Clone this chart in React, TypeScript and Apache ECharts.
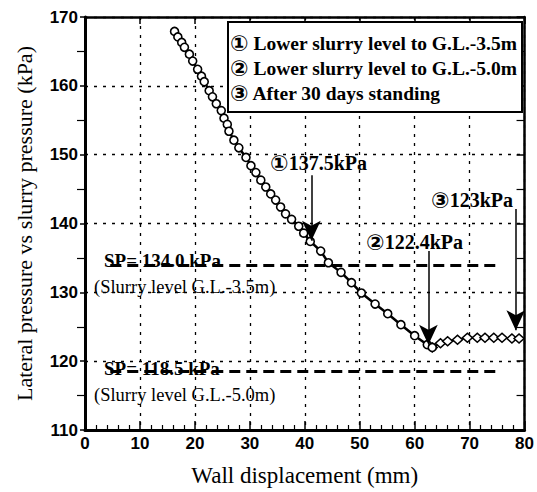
import React, { useEffect, useRef } from "react";
import * as echarts from "echarts";

// Wall displacement (mm) vs lateral pressure (kPa)
const stageOneTwo: number[][] = [
  [16.3, 167.9], [16.9, 167.1], [17.6, 166.3], [18.1, 165.6], [19.0, 164.6],
  [19.6, 163.6], [20.5, 162.4], [21.2, 161.4], [21.7, 160.6], [22.6, 159.3],
  [23.2, 158.4], [23.9, 157.4], [24.8, 156.4], [25.3, 155.3], [25.9, 154.4],
  [26.2, 153.4], [27.1, 152.1], [28.0, 151.0], [29.3, 149.6], [30.2, 148.4],
  [31.1, 147.4], [32.0, 146.3], [32.9, 145.3], [33.8, 144.3], [34.7, 143.4],
  [35.6, 142.4], [36.5, 141.4], [37.6, 140.6], [38.9, 139.6], [39.8, 138.6],
  [41.0, 137.4], [42.9, 136.0], [44.3, 134.3], [46.6, 132.9], [48.5, 131.4],
  [50.3, 129.9], [52.8, 128.3], [55.1, 126.9], [57.5, 125.3], [60.0, 123.7],
  [62.3, 122.4], [63.2, 122.0],
];
const stageThree: number[][] = [
  [63.2, 122.0], [64.7, 122.6], [66.0, 122.9], [67.8, 123.1], [69.6, 123.4],
  [71.4, 123.4], [72.8, 123.4], [74.4, 123.4], [75.9, 123.4], [77.7, 123.3],
  [79.0, 123.3],
];

// Slurry pressure levels
const spValues = [134.0, 118.5];
const spLabels = ["SP= 134.0 kPa", "SP= 118.5 kPa"];
const spNotes = ["(Slurry level G.L.-3.5m)", "(Slurry level G.L.-5.0m)"];
const spRange = [4.6, 75.3];

// Arrow annotations: x, start y, tip y
const arrowX = [41.2, 62.5, 78.4];
const arrowFrom = [147.0, 136.0, 142.1];
const arrowTo = [137.5, 122.4, 124.5];
const arrowMarks = ["①", "②", "③"];
const arrowTexts = ["137.5kPa", "122.4kPa", "123kPa"];

const legendMarks = ["①", "②", "③"];
const legendTexts = [
  "Lower slurry level to G.L.-3.5m",
  "Lower slurry level to G.L.-5.0m",
  "After 30 days standing",
];

const xTickMin = 0, xTickMax = 80, xTickStep = 10;
const yTickMin = 110, yTickMax = 170, yTickStep = 10;

const SERIF = "'Liberation Serif', 'DejaVu Serif', serif";
const SANS = "'Liberation Sans', Arial, sans-serif";
const CIRC = "'DejaVu Sans', 'Noto Sans CJK JP', sans-serif";

export default function App() {
  const ref = useRef<HTMLDivElement>(null);
  useEffect(() => {
    document.body.style.margin = "0";
    if (!ref.current) return;
    const chart = echarts.init(ref.current, null, { renderer: "svg" });

    const gridDot = { show: true, lineStyle: { color: "#000", width: 1.3, type: [3, 6] as any } };

    const arrowLines = arrowX.map((x, i) => [
      { coord: [x, arrowFrom[i]] },
      { coord: [x, arrowTo[i]] },
    ]);
    const spLines = spValues.map((v) => [
      { coord: [spRange[0], v] },
      { coord: [spRange[1], v] },
    ]);

    const richLegend = {
      c: { fontFamily: CIRC, fontWeight: "bold", fontSize: 22, fill: "#000", lineHeight: 21 },
      t: { fontFamily: SERIF, fontWeight: "bold", fontSize: 19.5, fill: "#000", lineHeight: 21 },
    };
    const richArrow = {
      c: { fontFamily: CIRC, fontWeight: "bold", fontSize: 22, fill: "#000", lineHeight: 21 },
      t: { fontFamily: SERIF, fontWeight: "bold", fontSize: 20, fill: "#000", lineHeight: 21 },
    };

    const arrowTextPos = [
      [270, 163],
      [366, 242],
      [431, 200],
    ];
    const spTextPos = [
      [104, 260, 94, 287],
      [104, 368, 94, 395],
    ];

    const graphics: any[] = [];
    graphics.push({
      type: "rect",
      shape: { x: 228, y: 22, width: 294, height: 90 },
      style: { fill: "#fff", stroke: "#000", lineWidth: 2 },
      z: 100,
    });
    legendTexts.forEach((t, i) => {
      graphics.push({
        type: "text",
        x: 230,
        y: 43 + i * 25,
        z: 101,
        style: {
          text: `{c|${legendMarks[i]}}{t| ${t}}`,
          rich: richLegend,
          verticalAlign: "middle",
          align: "left",
        },
      });
    });
    arrowTexts.forEach((t, i) => {
      graphics.push({
        type: "text",
        x: arrowTextPos[i][0],
        y: arrowTextPos[i][1],
        z: 101,
        style: {
          text: `{c|${arrowMarks[i]}}{t|${t}}`,
          rich: richArrow,
          verticalAlign: "middle",
          align: "left",
        },
      });
    });
    spLabels.forEach((t, i) => {
      graphics.push({
        type: "text",
        x: spTextPos[i][0],
        y: spTextPos[i][1],
        z: 101,
        style: {
          text: t,
          font: `bold 19px ${SERIF}`,
          fill: "#000",
          verticalAlign: "middle",
          align: "left",
        },
      });
      graphics.push({
        type: "text",
        x: spTextPos[i][2],
        y: spTextPos[i][3],
        z: 101,
        style: {
          text: spNotes[i],
          font: `18.5px ${SERIF}`,
          fill: "#000",
          verticalAlign: "middle",
          align: "left",
        },
      });
    });

    chart.setOption({
      animation: false,
      backgroundColor: "#fff",
      grid: { left: 85, right: 10, top: 17, bottom: 55, containLabel: false },
      xAxis: [
        {
          type: "value",
          min: xTickMin,
          max: xTickMax,
          interval: xTickStep,
          name: "Wall displacement (mm)",
          nameLocation: "middle",
          nameGap: 34,
          nameTextStyle: { fontFamily: SERIF, fontSize: 23, color: "#000" },
          axisLine: { show: true, onZero: false, lineStyle: { color: "#000", width: 3 } },
          axisTick: { show: true, inside: true, length: 9, lineStyle: { color: "#000", width: 1.5 } },
          minorTick: { show: true, splitNumber: 5, length: 5, lineStyle: { color: "#000", width: 1.2 } },
          axisLabel: { fontFamily: SANS, fontWeight: "bold", fontSize: 17, color: "#000", margin: 5 },
          splitLine: gridDot,
        },
        {
          type: "value",
          position: "top",
          min: xTickMin,
          max: xTickMax,
          interval: xTickStep,
          axisLine: { show: true, onZero: false, lineStyle: { color: "#000", width: 2.5 } },
          axisTick: { show: true, inside: true, length: 7, lineStyle: { color: "#000", width: 1.5 } },
          axisLabel: { show: false },
          splitLine: { show: false },
        },
      ],
      yAxis: [
        {
          type: "value",
          min: yTickMin,
          max: yTickMax,
          interval: yTickStep,
          name: "Lateral pressure vs slurry pressure (kPa)",
          nameLocation: "middle",
          nameGap: 50,
          nameTextStyle: { fontFamily: SERIF, fontSize: 22, color: "#000" },
          axisLine: { show: true, onZero: false, lineStyle: { color: "#000", width: 3 } },
          axisTick: { show: true, inside: false, length: 5, lineStyle: { color: "#000", width: 1.5 } },
          minorTick: { show: true, splitNumber: 2, length: 8, lineStyle: { color: "#000", width: 1.2 } },
          axisLabel: { fontFamily: SANS, fontWeight: "bold", fontSize: 17, color: "#000", margin: 7 },
          splitLine: gridDot,
        },
        {
          type: "value",
          position: "right",
          min: yTickMin,
          max: yTickMax,
          interval: yTickStep,
          axisLine: { show: true, onZero: false, lineStyle: { color: "#000", width: 2.5 } },
          axisTick: { show: true, inside: true, length: 8, lineStyle: { color: "#000", width: 1.5 } },
          minorTick: { show: true, splitNumber: 2, length: 8, lineStyle: { color: "#000", width: 1.2 } },
          axisLabel: { show: false },
          splitLine: { show: false },
        },
      ],
      series: [
        {
          type: "line",
          name: "slurry",
          data: [],
          markLine: {
            silent: true,
            symbol: ["none", "none"],
            label: { show: false },
            lineStyle: { color: "#000", width: 3, type: [11, 6] as any },
            data: spLines,
          },
        },
        {
          type: "line",
          name: "③",
          data: stageThree,
          symbol: "diamond",
          symbolSize: [10, 9],
          showSymbol: true,
          lineStyle: { color: "#000", width: 2 },
          itemStyle: { color: "#fff", borderColor: "#000", borderWidth: 1.5 },
          z: 3,
        },
        {
          type: "line",
          name: "①②",
          data: stageOneTwo,
          symbol: "circle",
          symbolSize: 8,
          showSymbol: true,
          lineStyle: { color: "#000", width: 2.5 },
          itemStyle: { color: "#fff", borderColor: "#000", borderWidth: 1.6 },
          z: 4,
          markLine: {
            silent: true,
            symbol: ["none", "arrow"],
            symbolSize: [14, 20],
            label: { show: false },
            lineStyle: { color: "#000", width: 1.5, type: "solid" },
            data: arrowLines,
          },
        },
      ],
      graphic: graphics,
    });
    return () => chart.dispose();
  }, []);
  return <div ref={ref} style={{ width: 537, height: 492 }} />;
}
